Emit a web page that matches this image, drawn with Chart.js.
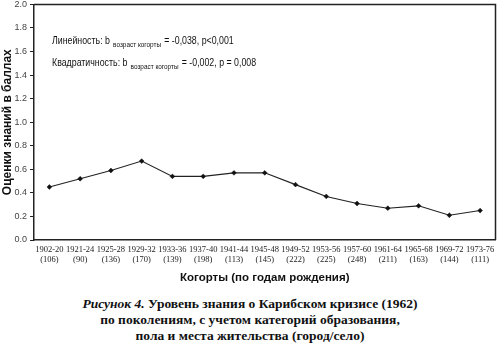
<!DOCTYPE html>
<html>
<head>
<meta charset="utf-8">
<script src="https://cdn.jsdelivr.net/npm/chart.js@4/dist/chart.umd.min.js"></script>
<style>
  html, body { margin: 0; padding: 0; background: #fff; }
  #wrap { position: relative; width: 500px; height: 343px; overflow: hidden; }
  #chart-box { position: absolute; left: 0; top: -4px; width: 500px; height: 289px; }
  #caption {
    position: absolute; left: 0; top: 296px; width: 500px;
    text-align: center; font-family: "Liberation Serif", "DejaVu Serif", serif;
    font-weight: bold; font-size: 13.5px; line-height: 16px; color: #111;
  }
  #caption i { font-style: italic; }
</style>
</head>
<body>
<div id="wrap">
  <div id="chart-box"><canvas id="c"></canvas></div>
  <div id="caption">
    <i>Рисунок 4.</i> Уровень знания о Карибском кризисе (1962)<br>
    по поколениям, с учетом категорий образования,<br>
    пола и места жительства (город/село)
  </div>
</div>
<script>
(function () {
  'use strict';

  // cohorts (years of birth) and group sizes
  var cohorts = ['1902-20', '1921-24', '1925-28', '1929-32', '1933-36', '1937-40', '1941-44',
    '1945-48', '1949-52', '1953-56', '1957-60', '1961-64', '1965-68', '1969-72', '1973-76'];
  var sizes = ['(106)', '(90)', '(136)', '(170)', '(139)', '(198)', '(113)',
    '(145)', '(222)', '(225)', '(248)', '(211)', '(163)', '(144)', '(111)'];
  // mean knowledge score per cohort
  var scores = [0.45, 0.52, 0.59, 0.67, 0.54, 0.54, 0.57, 0.57, 0.47, 0.37, 0.31, 0.27, 0.29, 0.21, 0.25];

  var yTicks = [0.0, 0.2, 0.4, 0.6, 0.8, 1.0, 1.2, 1.4, 1.6, 1.8, 2.0];

  var labels = cohorts.map(function (c, i) { return [c, sizes[i]]; });

  // frame around the plot + regression notes
  var framePlugin = {
    id: 'frame',
    afterDraw: function (chart) {
      var a = chart.chartArea, ctx = chart.ctx;
      ctx.save();
      ctx.strokeStyle = '#222';
      ctx.lineWidth = 1.5;
      ctx.beginPath();
      ctx.moveTo(a.left, a.top);
      ctx.lineTo(a.right, a.top);
      ctx.lineTo(a.right, a.bottom);
      ctx.stroke();

      ctx.fillStyle = '#111';
      ctx.textBaseline = 'alphabetic';
      var big = '11px "Liberation Sans", sans-serif';
      var small = '8px "Liberation Sans", sans-serif';
      var sx = 0.8;  // condensed look
      function note(x, y, head, tail) {
        ctx.save();
        ctx.translate(x, y);
        ctx.scale(sx, 1);
        var cx = 0;
        ctx.font = big;
        ctx.fillText(head, cx, 0);
        cx += ctx.measureText(head).width + 4;
        ctx.font = small;
        var sub = 'возраст когорты';
        ctx.fillText(sub, cx, 3);
        cx += ctx.measureText(sub).width + 4;
        ctx.font = big;
        ctx.fillText(tail, cx, 0);
        ctx.restore();
      }
      note(a.left + 18, a.top + 40, 'Линейность: b', '= -0,038, p<0,001');
      note(a.left + 18, a.top + 62, 'Квадратичность: b', '= -0,002, p = 0,008');
      ctx.restore();
    }
  };

  new Chart(document.getElementById('c').getContext('2d'), {
    type: 'line',
    data: {
      labels: labels,
      datasets: [{
        data: scores,
        borderColor: '#222',
        borderWidth: 1.1,
        pointStyle: 'rectRot',
        pointRadius: 2.4,
        pointBackgroundColor: '#111',
        pointBorderColor: '#111',
        pointBorderWidth: 0.5,
        tension: 0,
        fill: false
      }]
    },
    options: {
      responsive: true,
      maintainAspectRatio: false,
      animation: false,
      layout: { padding: { left: 0, right: 2, top: 0, bottom: 0 } },
      plugins: { legend: { display: false }, tooltip: { enabled: false } },
      scales: {
        x: {
          type: 'category',
          offset: true,
          grid: { display: false, drawTicks: false },
          border: { display: true, color: '#222', width: 1.5 },
          ticks: {
            color: '#222',
            padding: 5,
            maxRotation: 0,
            autoSkip: false,
            font: { family: '"Liberation Serif", serif', size: 8.5, lineHeight: 1.15 }
          },
          title: {
            display: true,
            text: 'Когорты (по годам рождения)',
            color: '#111',
            font: { family: '"Liberation Sans", Arial, sans-serif', size: 11.5, weight: 'bold' },
            padding: { top: 18, bottom: 0 }
          },
          afterFit: function (s) { s.height = 45; }
        },
        y: {
          min: 0,
          max: 2,
          afterBuildTicks: function (s) { s.ticks = yTicks.map(function (v) { return { value: v }; }); },
          grid: { display: true, drawOnChartArea: false, drawTicks: true, tickLength: 4, color: '#222' },
          border: { display: true, color: '#222', width: 1.5 },
          ticks: {
            color: '#444',
            padding: 3,
            font: { family: '"Liberation Sans", sans-serif', size: 9 },
            callback: function (v) { return Number(v).toFixed(1); }
          },
          title: {
            display: true,
            text: 'Оценки знаний в баллах',
            color: '#111',
            font: { family: '"Liberation Sans", Arial, sans-serif', size: 12, weight: 'bold' },
            padding: { top: 0, bottom: 1 }
          },
          afterFit: function (s) { s.width = 34; }
        }
      }
    },
    plugins: [framePlugin]
  });
})();
</script>
</body>
</html>
